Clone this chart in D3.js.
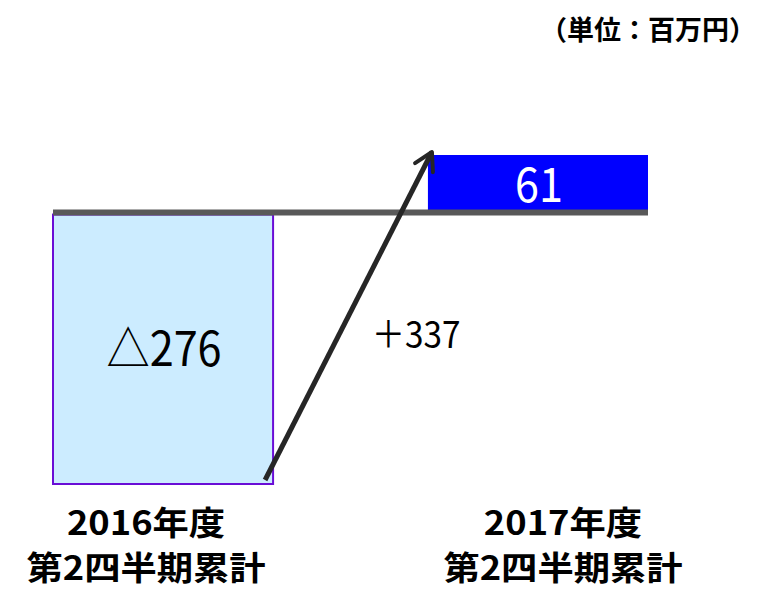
<!DOCTYPE html>
<html>
<head>
<meta charset="utf-8">
<script src="https://cdn.jsdelivr.net/npm/d3@7"></script>
<style>
  body { margin: 0; background: #fff; }
  text { font-family: "Noto Sans CJK JP", "Noto Sans", sans-serif; }
</style>
</head>
<body>
<div id="chart"></div>
<script>
var categories = ["2016年度\n第2四半期累計", "2017年度\n第2四半期累計"];
var values = [-276, 61];
var valueLabels = ["△276", "61"];
var changeLabel = "＋337";
var unitLabel = "（単位：百万円）";

var width = 758, height = 590;
var colors = { neg: "#CCECFF", negStroke: "#6A0DD6", pos: "#0000FF", base: "#595959", arrow: "#262626" };

var svg = d3.select("#chart").append("svg")
        .attr("width", width)
        .attr("height", height);

var x = d3.scaleBand()
        .domain(categories)
        .range([53, 648])
        .paddingInner(0.413)
        .paddingOuter(0);

var y = d3.scaleLinear()
        .domain([d3.min(values), d3.max(values)])
        .range([484, 155]);

// bars
svg.selectAll("rect.bar")
        .data(values)
        .enter()
        .append("rect")
        .attr("class", "bar")
        .attr("x", function(d, i){ return x(categories[i]); })
        .attr("y", function(d){ return d < 0 ? y(0) : y(d); })
        .attr("width", x.bandwidth())
        .attr("height", function(d){ return Math.abs(y(d) - y(0)); })
        .attr("fill", function(d){ return d < 0 ? colors.neg : colors.pos; })
        .attr("stroke", function(d){ return d < 0 ? colors.negStroke : "none"; })
        .attr("stroke-width", 2);

// zero line
svg.append("line")
        .attr("x1", x.range()[0])
        .attr("x2", x.range()[1])
        .attr("y1", y(0) - 2)
        .attr("y2", y(0) - 2)
        .attr("stroke", colors.base)
        .attr("stroke-width", 6);

// value labels (narrowed a bit like the original font)
svg.selectAll("text.val")
        .data(values)
        .enter()
        .append("text")
        .attr("class", "val")
        .attr("transform", function(d, i){
                var cx = x(categories[i]) + x.bandwidth() / 2 + 1;
                var cy = (y(d) + y(0)) / 2 + 17;
                return "translate(" + cx + "," + cy + ") scale(0.9,1)";
        })
        .attr("text-anchor", "middle")
        .attr("font-size", 48)
        .attr("fill", function(d){ return d < 0 ? "#000" : "#fff"; })
        .text(function(d, i){ return valueLabels[i]; });

// arrow
var defs = svg.append("defs");
defs.append("marker")
        .attr("id", "head")
        .attr("viewBox", "0 0 10 10")
        .attr("refX", 8).attr("refY", 5)
        .attr("markerWidth", 5).attr("markerHeight", 5)
        .attr("orient", "auto")
        .append("path")
        .attr("d", "M1,1 L8,5 L1,9")
        .attr("fill", "none")
        .attr("stroke", colors.arrow)
        .attr("stroke-width", 1.6)
        .attr("stroke-linecap", "round")
        .attr("stroke-linejoin", "round");

var x0 = x(categories[0]) + x.bandwidth() - 8;
var x1 = x(categories[1]) + 4;
svg.append("line")
        .attr("x1", x0).attr("y1", y(values[0]) - 4)
        .attr("x2", x1).attr("y2", y(values[1]) - 3)
        .attr("stroke", colors.arrow)
        .attr("stroke-width", 5)
        .attr("marker-end", "url(#head)");

svg.append("text")
        .attr("transform", "translate(416,348) scale(0.9,1)")
        .attr("text-anchor", "middle")
        .attr("font-size", 37)
        .attr("fill", "#000")
        .text(changeLabel);

// category labels
var offsets = [-17, 25];
categories.forEach(function(c, i){
        var cx = x(c) + x.bandwidth() / 2 + offsets[i];
        var t = svg.append("text")
                .attr("transform", "translate(" + cx + ",0) scale(1.1,1)")
                .attr("text-anchor", "middle")
                .attr("font-size", 33)
                .attr("font-weight", "bold")
                .attr("fill", "#000");
        c.split("\n").forEach(function(line, j){
                t.append("tspan")
                        .attr("x", 0)
                        .attr("y", 535 + j * 45)
                        .text(line);
        });
});

svg.append("text")
        .attr("x", 756)
        .attr("y", 40)
        .attr("text-anchor", "end")
        .attr("font-size", 27)
        .attr("font-weight", "bold")
        .attr("fill", "#000")
        .text(unitLabel);
</script>
</body>
</html>
